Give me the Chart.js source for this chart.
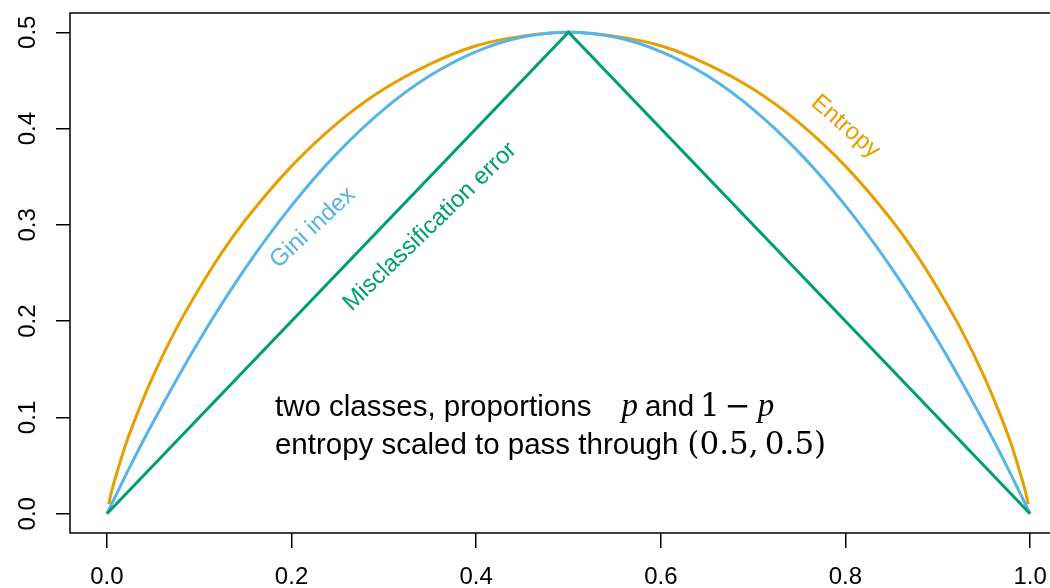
<!DOCTYPE html>
<html>
<head>
<meta charset="utf-8">
<script src="https://cdn.jsdelivr.net/npm/chart.js@4.4.0/dist/chart.umd.min.js"></script>
<style>
  html, body { margin: 0; padding: 0; background: #fff; overflow: hidden; }
  #wrap { width: 1110px; height: 588px; }
</style>
</head>
<body>
<div id="wrap"><canvas id="c" width="1110" height="588"></canvas></div>
<script>
// tick labels
const xTicks = [0, 0.2, 0.4, 0.6, 0.8, 1.0];
const yTicks = [0, 0.1, 0.2, 0.3, 0.4, 0.5];

// entropy (scaled so it passes through 0.5, 0.5)
const entropyP = [0.002, 0.005, 0.01, 0.02, 0.03, 0.05, 0.075, 0.1, 0.125, 0.15, 0.2, 0.25, 0.3, 0.35, 0.4, 0.45, 0.5,
  0.55, 0.6, 0.65, 0.7, 0.75, 0.8, 0.85, 0.875, 0.9, 0.925, 0.95, 0.97, 0.98, 0.99, 0.995, 0.998];
const entropyVal = [0.010, 0.023, 0.040, 0.071, 0.097, 0.143, 0.192, 0.234, 0.272, 0.305, 0.361, 0.406, 0.441, 0.467, 0.486, 0.496, 0.500,
  0.496, 0.486, 0.467, 0.441, 0.406, 0.361, 0.305, 0.272, 0.234, 0.192, 0.143, 0.097, 0.071, 0.040, 0.023, 0.010];

// gini index
const giniP = [0, 0.025, 0.05, 0.1, 0.15, 0.2, 0.25, 0.3, 0.35, 0.4, 0.45, 0.5,
  0.55, 0.6, 0.65, 0.7, 0.75, 0.8, 0.85, 0.9, 0.95, 0.975, 1];
const giniVal = [0, 0.049, 0.095, 0.180, 0.255, 0.320, 0.375, 0.420, 0.455, 0.480, 0.495, 0.500,
  0.495, 0.480, 0.455, 0.420, 0.375, 0.320, 0.255, 0.180, 0.095, 0.049, 0];

// misclassification error
const misclassP = [0, 0.5, 1];
const misclassVal = [0, 0.5, 0];

const ORANGE = '#E69F00';
const BLUE = '#56B4E9';
const GREEN = '#009E73';

const toPoints = (xs, ys) => xs.map((x, i) => ({ x: x, y: ys[i] }));

// curve labels: text, colour, data position, angle in degrees
const curveLabels = [
  { text: 'Gini index', color: BLUE, x: 0.223, y: 0.297, angle: -43 },
  { text: 'Misclassification error', color: GREEN, x: 0.350, y: 0.298, angle: -44 },
  { text: 'Entropy', color: ORANGE, x: 0.800, y: 0.402, angle: 41 },
];

const SANS = '29.5px "Liberation Sans", Arial, sans-serif';
const SERIF = '31px "DejaVu Serif", serif';
const ITAL = 'italic 33px "Liberation Serif", serif';

// note lines: [text, font, gap before]
const noteX = 0.182;
const noteLines = [
  { y: 0.102, parts: [['two classes, proportions', SANS, 0], ['p', ITAL, 30], ['and', SANS, 7], ['1', SERIF, 6], ['\u2212', SERIF, 5], ['p', ITAL, 7]] },
  { y: 0.062, parts: [['entropy scaled to pass through', SANS, 0], ['(0.5,\u20090.5)', SERIF, 9]] },
];

const framePlugin = {
  id: 'frame',
  afterDraw(chart) {
    const ctx = chart.ctx;
    const a = chart.chartArea;
    const ys = chart.scales.y;
    const xs = chart.scales.x;
    ctx.save();
    ctx.strokeStyle = '#000';
    ctx.lineWidth = 1.5;
    ctx.strokeRect(a.left, a.top, a.right - a.left, a.bottom - a.top);

    // y tick labels, rotated like base R
    ctx.fillStyle = '#000';
    ctx.font = '24px "Liberation Sans", Arial, sans-serif';
    ctx.textAlign = 'center';
    ctx.textBaseline = 'alphabetic';
    yTicks.forEach(v => {
      ctx.save();
      ctx.translate(a.left - 35, ys.getPixelForValue(v));
      ctx.rotate(-Math.PI / 2);
      ctx.fillText(v.toFixed(1), 0, 0);
      ctx.restore();
    });

    // curve labels
    ctx.font = '24px "Liberation Sans", Arial, sans-serif';
    ctx.textBaseline = 'middle';
    curveLabels.forEach(l => {
      ctx.save();
      ctx.translate(xs.getPixelForValue(l.x), ys.getPixelForValue(l.y));
      ctx.rotate(l.angle * Math.PI / 180);
      ctx.fillStyle = l.color;
      ctx.fillText(l.text, 0, 0);
      ctx.restore();
    });

    // note text
    ctx.fillStyle = '#000';
    ctx.textAlign = 'left';
    ctx.textBaseline = 'alphabetic';
    noteLines.forEach(line => {
      let px = xs.getPixelForValue(noteX);
      const py = ys.getPixelForValue(line.y);
      line.parts.forEach(([t, f, gap]) => {
        px += gap;
        ctx.font = f;
        ctx.fillText(t, px, py);
        px += ctx.measureText(t).width;
      });
    });
    ctx.restore();
  }
};

new Chart(document.getElementById('c'), {
  type: 'scatter',
  data: {
    datasets: [
      { label: 'Misclassification error', data: toPoints(misclassP, misclassVal), borderColor: GREEN, order: 0 },
      { label: 'Gini index', data: toPoints(giniP, giniVal), borderColor: BLUE, order: 1, cubicInterpolationMode: 'monotone' },
      { label: 'Entropy', data: toPoints(entropyP, entropyVal), borderColor: ORANGE, order: 2, cubicInterpolationMode: 'monotone' },
    ]
  },
  options: {
    responsive: false,
    animation: false,
    devicePixelRatio: 1,
    datasets: {
      scatter: { showLine: true, pointRadius: 0, borderWidth: 3, fill: false }
    },
    layout: { padding: { top: 13, right: 43, bottom: 0, left: 0 } },
    plugins: {
      legend: { display: false },
      tooltip: { enabled: false },
    },
    scales: {
      x: {
        type: 'linear',
        min: -0.04,
        max: 1.04,
        afterBuildTicks: s => { s.ticks = xTicks.map(v => ({ value: v })); },
        afterFit: s => { s.height = 55; },
        ticks: {
          color: '#000',
          font: { family: '"Liberation Sans", Arial, sans-serif', size: 24 },
          padding: 15,
          maxRotation: 0,
          callback: v => v.toFixed(1),
        },
        grid: { drawOnChartArea: false, drawTicks: true, tickLength: 15, color: '#000', lineWidth: 1.5 },
        border: { display: false },
      },
      y: {
        type: 'linear',
        min: -0.02,
        max: 0.52,
        afterBuildTicks: s => { s.ticks = yTicks.map(v => ({ value: v })); },
        afterFit: s => { s.width = 70; },
        ticks: { display: false },
        grid: { drawOnChartArea: false, drawTicks: true, tickLength: 14, color: '#000', lineWidth: 1.5 },
        border: { display: false },
      }
    }
  },
  plugins: [framePlugin]
});
</script>
</body>
</html>
